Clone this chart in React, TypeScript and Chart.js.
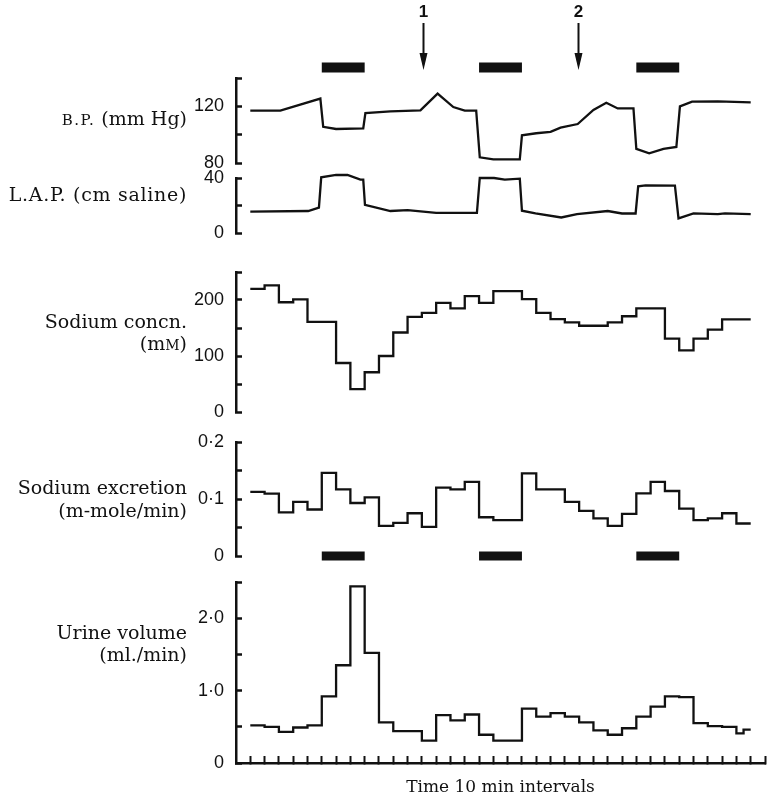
import React, { useEffect, useRef } from 'react';
import { Chart, registerables } from 'chart.js';

Chart.register(...registerables);

// ---------- data (time in 10-min intervals) ----------
const intervalT = [0, 1, 2, 3, 4, 5, 6, 7, 8, 9, 10, 11, 12, 13, 14, 15, 16, 17, 18, 19, 20, 21, 22, 23, 24, 25, 26, 27, 28, 29, 30, 31, 32, 33, 34];
const END_T = 35;
const xTickValues = [0, 1, 2, 3, 4, 5, 6, 7, 8, 9, 10, 11, 12, 13, 14, 15, 16, 17, 18, 19, 20, 21, 22, 23, 24, 25, 26, 27, 28, 29, 30, 31, 32, 33, 34, 35, 36];

// B.P. (mm Hg)
const bpT = [0, 2.1, 4.9, 5.1, 6.0, 7.9, 8.05, 9.8, 11.9, 13.1, 14.2, 15.0, 15.8, 16.05, 17.0, 18.85, 19.0, 20.0, 21.0, 21.7, 22.9, 24.0, 24.9, 25.7, 26.8, 27.0, 27.9, 28.9, 29.8, 30.05, 30.9, 32.7, 35];
const bpV = [117, 117, 125.5, 105.5, 104, 104.5, 115.3, 116.5, 117.2, 129, 119.5, 117, 117, 84, 82.5, 82.5, 99.5, 101, 102, 105, 107.5, 117.5, 122.5, 118.5, 118.5, 90, 86.8, 90, 91.3, 120, 123.3, 123.5, 122.8];

// L.A.P. (cm saline)
const lapT = [0, 4.05, 4.8, 4.96, 6.0, 6.8, 7.7, 7.9, 8.02, 9.8, 11.0, 13.0, 15.85, 16.05, 17.05, 17.8, 18.85, 19.0, 19.95, 21.75, 22.85, 25.0, 26.0, 26.95, 27.13, 27.65, 29.7, 29.95, 31.0, 32.7, 33.2, 35];
const lapV = [15.5, 16, 18.4, 40.5, 42.2, 42.2, 38.8, 38.8, 20.4, 16, 16.7, 14.7, 14.7, 40, 40, 38.8, 39.5, 16.2, 14.2, 11.3, 13.7, 16, 14.2, 14.2, 33.9, 34.6, 34.4, 10.6, 14.2, 13.7, 14.2, 13.7];

// Sodium concn. (mM), one value per interval
const naConc = [220, 226, 196, 201, 161, 161, 87.5, 41, 71, 100, 142, 170, 177, 195, 185, 207, 195, 216, 216, 201.5, 177, 166, 160, 154, 154, 160, 171, 185, 185, 131, 110, 131, 147, 165.5, 165.5];

// Sodium excretion (m-mole/min), one value per interval
const naExc = [0.1125, 0.1096, 0.0764, 0.095, 0.0816, 0.146, 0.117, 0.093, 0.103, 0.053, 0.058, 0.075, 0.051, 0.12, 0.117, 0.13, 0.068, 0.063, 0.063, 0.145, 0.117, 0.117, 0.095, 0.079, 0.066, 0.053, 0.074, 0.11, 0.13, 0.114, 0.083, 0.063, 0.066, 0.075, 0.057];

// Urine volume (ml./min)
const urineT = [0, 1, 2, 3, 4, 5, 6, 7, 8, 9, 10, 11, 12, 13, 14, 15, 16, 17, 18, 19, 20, 21, 22, 23, 24, 25, 26, 27, 28, 29, 30, 31, 32, 33, 34, 34.5];
const urine = [0.52, 0.50, 0.43, 0.49, 0.52, 0.92, 1.35, 2.44, 1.52, 0.56, 0.44, 0.44, 0.31, 0.66, 0.59, 0.67, 0.39, 0.31, 0.31, 0.75, 0.64, 0.69, 0.64, 0.56, 0.45, 0.39, 0.48, 0.64, 0.78, 0.92, 0.91, 0.55, 0.51, 0.50, 0.41, 0.46];

// infusion periods and arrows
const infusionStart = [5, 16, 27];
const infusionEnd = [8, 19, 30];
const arrowT = [12.1, 22.9];
const arrowLabel = ['1', '2'];

// axis ticks
const bpTicks = [80, 100, 120, 140];
const bpTickLabels = ['80', '', '120', ''];
const lapTicks = [0, 20, 40];
const lapTickLabels = ['0', '', '40'];
const naConcTicks = [0, 50, 100, 150, 200, 250];
const naConcTickLabels = ['0', '', '100', '', '200', ''];
const naExcTicks = [0, 0.05, 0.1, 0.15, 0.2];
const naExcTickLabels = ['0', '', '0·1', '', '0·2'];
const urineTicks = [0, 0.5, 1, 1.5, 2, 2.5];
const urineTickLabels = ['0', '', '1·0', '', '2·0', ''];

// ---------- styling ----------
const INK = '#111111';
const FONT_SERIF = '"DejaVu Serif", serif';
const FONT_SANS = '"Liberation Sans", Arial, sans-serif';
const W = 771;
const AXIS_X = 236;
const RIGHT_X = 765;
const X_MIN = -1.0;
const X_MAX = 36;
const PAD = 34;

function stepPoints(ts: number[], vs: number[], end: number) {
  const pts = ts.map((t, i) => ({ x: t, y: vs[i] }));
  pts.push({ x: end, y: vs[vs.length - 1] });
  return pts;
}
function linePoints(ts: number[], vs: number[]) {
  return ts.map((t, i) => ({ x: t, y: vs[i] }));
}
function traceDs(data: any[], stepped: boolean) {
  return {
    data,
    borderColor: INK,
    borderWidth: 2.3,
    pointRadius: 0,
    fill: false,
    tension: 0,
    stepped: stepped ? 'before' : false,
    borderJoinStyle: 'miter',
    clip: false,
  };
}
function barDs(level: number, width: number) {
  return infusionStart.map((s, i) => ({
    data: [{ x: s, y: level }, { x: infusionEnd[i], y: level }],
    borderColor: INK,
    borderWidth: width,
    borderCapStyle: 'butt',
    pointRadius: 0,
    fill: false,
    clip: false,
  }));
}

const arrowPlugin = {
  id: 'arrows',
  afterDatasetsDraw(chart: any) {
    const { ctx } = chart;
    const x = chart.scales.x;
    const y = chart.scales.y;
    ctx.save();
    ctx.fillStyle = INK;
    ctx.strokeStyle = INK;
    ctx.lineWidth = 2;
    arrowT.forEach((t, i) => {
      const px = Math.round(x.getPixelForValue(t)) + 0.5;
      const top = y.getPixelForValue(23);
      const tip = y.getPixelForValue(70);
      ctx.beginPath();
      ctx.moveTo(px, top);
      ctx.lineTo(px, tip - 10);
      ctx.stroke();
      ctx.beginPath();
      ctx.moveTo(px - 4, tip - 17);
      ctx.lineTo(px + 4, tip - 17);
      ctx.lineTo(px, tip);
      ctx.closePath();
      ctx.fill();
      ctx.font = `bold 17px ${FONT_SANS}`;
      ctx.textAlign = 'center';
      ctx.textBaseline = 'middle';
      ctx.fillText(arrowLabel[i], px, y.getPixelForValue(12));
    });
    ctx.restore();
  },
};

type Panel = {
  key: string;
  canvasTop: number;
  canvasBottom: number;
  areaTop: number;
  areaBottom: number;
  yMin: number;
  yMax: number;
  yTicks?: number[];
  yTickLabels?: string[];
  reverse?: boolean;
  hiddenY?: boolean;
  showX?: boolean;
  datasets: any[];
  plugins?: any[];
};

const panels: Panel[] = [
  {
    key: 'markers', canvasTop: 0, canvasBottom: 78, areaTop: 0, areaBottom: 78,
    yMin: 0, yMax: 78, reverse: true, hiddenY: true,
    datasets: barDs(67.5, 10), plugins: [arrowPlugin],
  },
  {
    key: 'bp', canvasTop: 78 - PAD, canvasBottom: 163 + PAD, areaTop: 78, areaBottom: 163,
    yMin: 80, yMax: 140, yTicks: bpTicks, yTickLabels: bpTickLabels,
    datasets: [traceDs(linePoints(bpT, bpV), false)],
  },
  {
    key: 'lap', canvasTop: 178 - PAD, canvasBottom: 233 + PAD, areaTop: 178, areaBottom: 233,
    yMin: 0, yMax: 40, yTicks: lapTicks, yTickLabels: lapTickLabels,
    datasets: [traceDs(linePoints(lapT, lapV), false)],
  },
  {
    key: 'naconc', canvasTop: 272 - PAD, canvasBottom: 412 + PAD, areaTop: 272, areaBottom: 412,
    yMin: 0, yMax: 250, yTicks: naConcTicks, yTickLabels: naConcTickLabels,
    datasets: [traceDs(stepPoints(intervalT, naConc, END_T), true)],
  },
  {
    key: 'naexc', canvasTop: 442 - PAD, canvasBottom: 556 + PAD, areaTop: 442, areaBottom: 556,
    yMin: 0, yMax: 0.2, yTicks: naExcTicks, yTickLabels: naExcTickLabels,
    datasets: [traceDs(stepPoints(intervalT, naExc, END_T), true), ...barDs(0, 9)],
  },
  {
    key: 'urine', canvasTop: 582 - PAD, canvasBottom: 798, areaTop: 582, areaBottom: 763,
    yMin: 0, yMax: 2.5, yTicks: urineTicks, yTickLabels: urineTickLabels, showX: true,
    datasets: [traceDs(stepPoints(urineT, urine, END_T), true)],
  },
];

function makeChart(canvas: HTMLCanvasElement, p: Panel) {
  const h = p.canvasBottom - p.canvasTop;
  canvas.width = W;
  canvas.height = h;
  return new Chart(canvas, {
    type: 'line',
    data: { datasets: p.datasets },
    plugins: p.plugins || [],
    options: {
      animation: false,
      responsive: false,
      maintainAspectRatio: false,
      devicePixelRatio: 1,
      events: [],
      layout: {
        padding: {
          left: p.hiddenY ? AXIS_X : 0,
          right: W - RIGHT_X,
          top: p.areaTop - p.canvasTop,
          bottom: p.showX ? 0 : p.canvasBottom - p.areaBottom,
        },
      },
      plugins: { legend: { display: false }, tooltip: { enabled: false } },
      scales: {
        x: {
          type: 'linear',
          min: X_MIN,
          max: X_MAX,
          display: !!p.showX,
          afterBuildTicks: (s: any) => { s.ticks = xTickValues.map((v) => ({ value: v })); },
          afterFit: (s: any) => { s.height = p.showX ? p.canvasBottom - p.areaBottom : 0; },
          grid: { drawOnChartArea: false, drawTicks: true, tickLength: -7, tickWidth: 2, tickColor: INK },
          border: { display: true, color: INK, width: 2.5 },
          ticks: { display: false },
          title: {
            display: true,
            text: 'Time 10 min intervals',
            color: INK,
            font: { family: FONT_SERIF, size: 17 },
            padding: { top: 0, bottom: 0 },
          },
        },
        y: {
          type: 'linear',
          position: 'left',
          min: p.yMin,
          max: p.yMax,
          reverse: !!p.reverse,
          display: !p.hiddenY,
          afterBuildTicks: (s: any) => { if (p.yTicks) s.ticks = p.yTicks.map((v) => ({ value: v })); },
          afterFit: (s: any) => { s.width = p.hiddenY ? 0 : AXIS_X; },
          grid: { drawOnChartArea: false, drawTicks: true, tickLength: -6, tickWidth: 2.5, tickColor: INK },
          border: { display: true, color: INK, width: 2.5 },
          ticks: {
            autoSkip: false,
            padding: 18,
            color: INK,
            font: { family: FONT_SANS, size: 18 },
            callback: (_v: any, i: number) => (p.yTickLabels ? p.yTickLabels[i] : ''),
          },
        },
      },
    } as any,
  });
}

const labelStyle = (cy: number, extra?: React.CSSProperties): React.CSSProperties => ({
  position: 'absolute',
  right: W - 187,
  top: cy - 11,
  height: 22,
  lineHeight: '22px',
  textAlign: 'right',
  whiteSpace: 'nowrap',
  fontFamily: FONT_SERIF,
  fontSize: 19,
  color: INK,
  ...extra,
});

export default function App() {
  const refs = useRef<(HTMLCanvasElement | null)[]>([]);
  useEffect(() => {
    const charts = panels.map((p, i) => makeChart(refs.current[i] as HTMLCanvasElement, p));
    return () => charts.forEach((c) => c.destroy());
  }, []);
  return (
    <div style={{ position: 'absolute', left: 0, top: 0, width: W, height: 798, overflow: 'hidden', background: '#fff' }}>
      {panels.map((p, i) => (
        <canvas
          key={p.key}
          ref={(el) => { refs.current[i] = el; }}
          width={W}
          height={p.canvasBottom - p.canvasTop}
          style={{ position: 'absolute', left: 0, top: p.canvasTop, width: W, height: p.canvasBottom - p.canvasTop }}
        />
      ))}
      <div style={labelStyle(118)}><span style={{ fontSize: 15, letterSpacing: 1.5 }}>B.P.</span> (mm Hg)</div>
      <div style={labelStyle(194, { letterSpacing: 0.7 })}>L.A.P. (cm saline)</div>
      <div style={labelStyle(321)}>Sodium concn.</div>
      <div style={labelStyle(343)}>(m<span style={{ fontSize: 14 }}>M</span>)</div>
      <div style={labelStyle(487)}>Sodium excretion</div>
      <div style={labelStyle(510)}>(m-mole/min)</div>
      <div style={labelStyle(632)}>Urine volume</div>
      <div style={labelStyle(654)}>(ml./min)</div>
    </div>
  );
}
